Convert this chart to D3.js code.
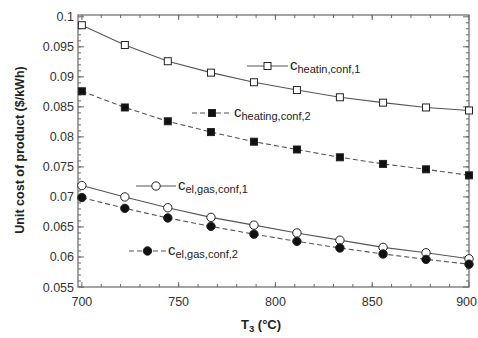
<!DOCTYPE html>
<html>
<head>
<meta charset="utf-8">
<script src="https://cdn.jsdelivr.net/npm/d3@7"></script>
<style>
  body { margin: 0; background: #fff; }
  text { font-family: "Liberation Sans", Arial, sans-serif; }
</style>
</head>
<body>
<div id="chart"></div>
<script>
// temperatures T3 (°C)
var temps = [700, 722.2, 744.4, 766.7, 788.9, 811.1, 833.3, 855.6, 877.8, 900]
var heatConf1 = [0.0986, 0.0953, 0.0926, 0.0907, 0.0891, 0.0878, 0.0866, 0.0857, 0.0849, 0.0844]
var heatConf2 = [0.0876, 0.0849, 0.0826, 0.0808, 0.0792, 0.0779, 0.0766, 0.0755, 0.0746, 0.0736]
var elConf1 = [0.0719, 0.0700, 0.0682, 0.0666, 0.0653, 0.0640, 0.0628, 0.0616, 0.0607, 0.0597]
var elConf2 = [0.0699, 0.0681, 0.0665, 0.0651, 0.0638, 0.0626, 0.0615, 0.0605, 0.0596, 0.0588]
var xTicks = [700, 750, 800, 850, 900]
var yTicks = [0.055, 0.06, 0.065, 0.07, 0.075, 0.08, 0.085, 0.09, 0.095, 0.1]

var width = 478, height = 338
var svg = d3.select("#chart").append("svg").attr("width", width).attr("height", height)

var x = d3.scaleLinear().domain([698, 900]).range([78, 469])
var y = d3.scaleLinear().domain([0.055, 0.1003]).range([287, 15])

var axisCol = "#666"
var txtCol = "#333"

// frame
svg.append("rect").attr("x", 78).attr("y", 15).attr("width", 391).attr("height", 272)
    .attr("fill", "none").attr("stroke", axisCol).attr("stroke-width", 1.2)

var xMinor = d3.range(710, 900, 10)
var yMinor = d3.range(56, 100, 1).map(d => d / 1000)

function ticks(g, vals, len, isX) {
    vals.forEach(v => {
        if (isX) {
            g.append("line").attr("x1", x(v)).attr("x2", x(v)).attr("y1", 287).attr("y2", 287 - len)
            g.append("line").attr("x1", x(v)).attr("x2", x(v)).attr("y1", 15).attr("y2", 15 + len)
        } else {
            g.append("line").attr("y1", y(v)).attr("y2", y(v)).attr("x1", 78).attr("x2", 78 + len)
            g.append("line").attr("y1", y(v)).attr("y2", y(v)).attr("x1", 469).attr("x2", 469 - len)
        }
    })
}
var tg = svg.append("g").attr("stroke", axisCol).attr("stroke-width", 1)
ticks(tg, xMinor, 3, true)
ticks(tg, xTicks, 5, true)
ticks(tg, yMinor, 3, false)
ticks(tg, yTicks, 6, false)

// tick labels
svg.append("g").selectAll("text").data(xTicks).enter().append("text")
    .attr("x", d => d == 900 ? 477 : x(d)).attr("y", 306)
    .attr("text-anchor", d => d == 900 ? "end" : "middle")
    .attr("font-size", 12.5).attr("fill", txtCol).text(d => d)
svg.append("g").selectAll("text").data(yTicks).enter().append("text")
    .attr("x", 74).attr("y", d => y(d) + 4.5).attr("text-anchor", "end")
    .attr("font-size", 12.5).attr("fill", txtCol).text(d => d)

// axis titles
svg.append("text").attr("transform", "translate(24,150) rotate(-90)")
    .attr("text-anchor", "middle").attr("font-size", 12.5).attr("font-weight", "bold")
    .attr("fill", "#222").text("Unit cost of product ($/kWh)")
var xt = svg.append("text").attr("x", 261).attr("y", 329).attr("text-anchor", "middle")
    .attr("font-size", 13).attr("font-weight", "bold").attr("fill", "#222")
xt.append("tspan").text("T")
xt.append("tspan").attr("font-size", 9.5).attr("dy", 3).text("3")
xt.append("tspan").attr("dy", -3).text(" (°C)")

var series = [
    { vals: heatConf1, dash: null, shape: "square", fill: "#fff", sub: "heatin,conf,1", lx: [247, 288], ly: 66 },
    { vals: heatConf2, dash: "5,3", shape: "square", fill: "#111", sub: "heating,conf,2", lx: [192, 232], ly: 113 },
    { vals: elConf1, dash: null, shape: "circle", fill: "#fff", sub: "el,gas,conf,1", lx: [136, 176], ly: 186 },
    { vals: elConf2, dash: "5,3", shape: "circle", fill: "#111", sub: "el,gas,conf,2", lx: [129, 166], ly: 251 }
]

var line = d3.line().x(d => x(d[0])).y(d => y(d[1]))

function marker(g, cx, cy, s) {
    if (s.shape == "square") {
        g.append("rect").attr("x", cx - 3.5).attr("y", cy - 3.5).attr("width", 7).attr("height", 7)
            .attr("fill", s.fill).attr("stroke", "#222").attr("stroke-width", 1)
    } else {
        g.append("circle").attr("cx", cx).attr("cy", cy).attr("r", 4.2)
            .attr("fill", s.fill).attr("stroke", "#222").attr("stroke-width", 1)
    }
}

series.forEach(s => {
    var pts = temps.map((t, i) => [t, s.vals[i]])
    svg.append("path").datum(pts).attr("d", line).attr("fill", "none")
        .attr("stroke", "#555").attr("stroke-width", 1.1).attr("stroke-dasharray", s.dash)
    var g = svg.append("g")
    pts.forEach(p => marker(g, x(p[0]), y(p[1]), s))

    // legend entry
    svg.append("line").attr("x1", s.lx[0]).attr("x2", s.lx[1]).attr("y1", s.ly).attr("y2", s.ly)
        .attr("stroke", "#555").attr("stroke-width", 1.1).attr("stroke-dasharray", s.dash)
    marker(svg, (s.lx[0] + s.lx[1]) / 2, s.ly, s)
    var t = svg.append("text").attr("x", s.lx[1] + 2).attr("y", s.ly + 4)
        .attr("font-size", 15).attr("fill", "#222")
    t.append("tspan").text("c")
    t.append("tspan").attr("font-size", 11).attr("dy", 3).text(s.sub)
})
</script>
</body>
</html>
